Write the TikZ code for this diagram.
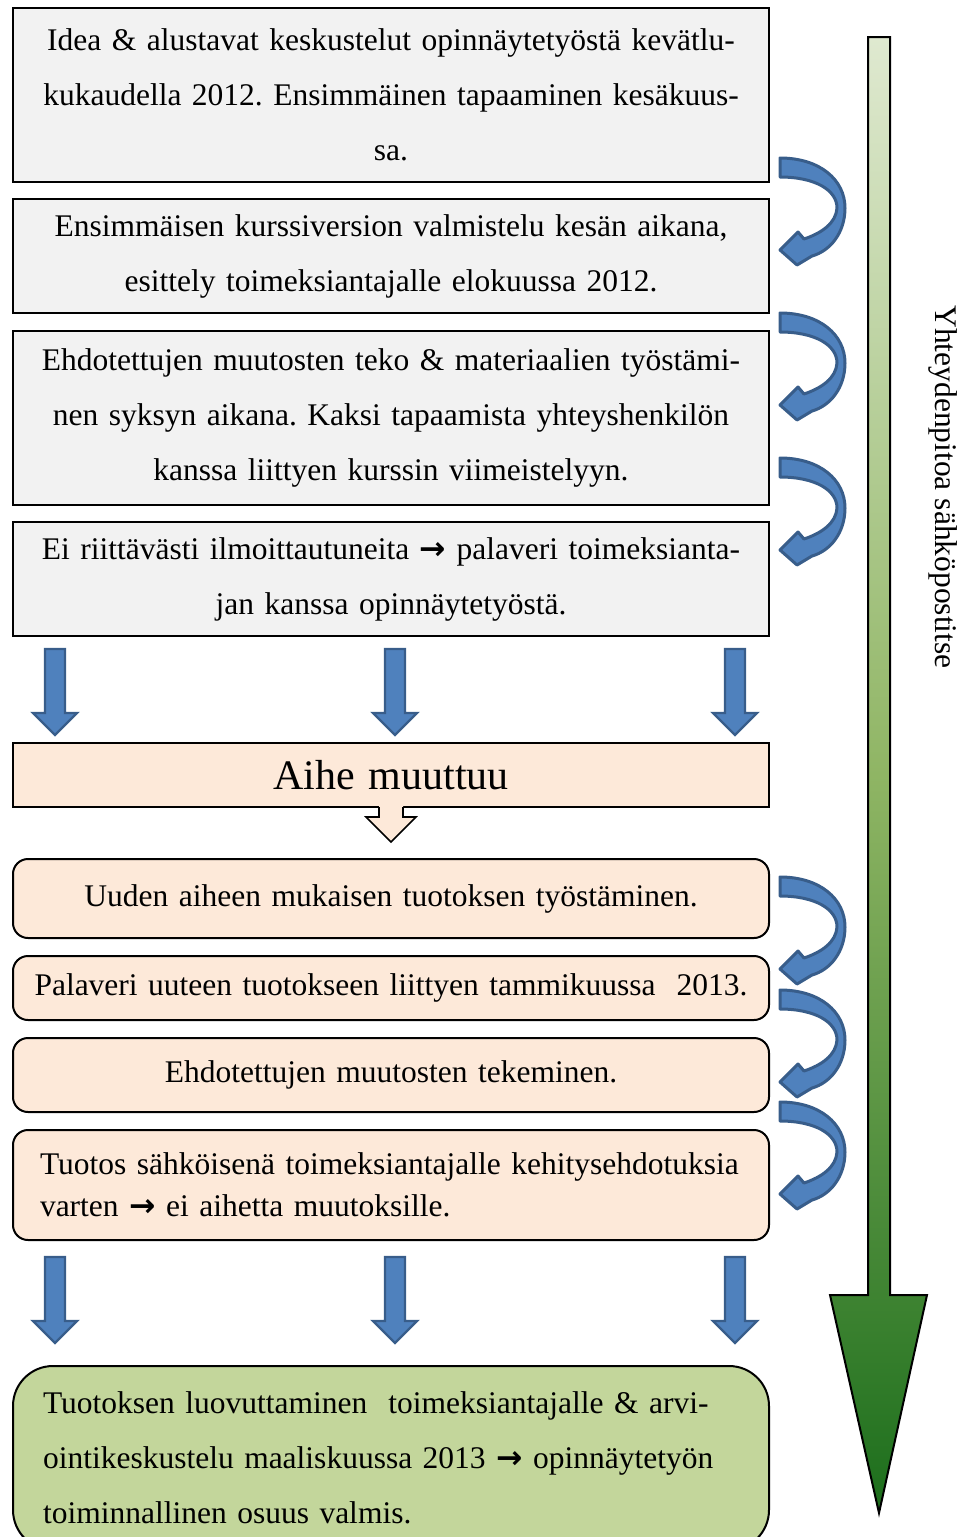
\documentclass[tikz,border=0pt]{standalone}
\usepackage{fontspec}
\setmainfont{Liberation Serif}
\newfontfamily\arrowfont{DejaVu Sans}
\usetikzlibrary{positioning}
\definecolor{boxgray}{HTML}{F2F2F2}
\definecolor{boxpeach}{HTML}{FDE9D9}
\definecolor{boxgreen}{HTML}{C3D69B}
\definecolor{arrowfill}{HTML}{4F81BD}
\definecolor{arrowline}{HTML}{385D8A}
\definecolor{timetop}{HTML}{DFE9D0}
\definecolor{timemid}{HTML}{8FB564}
\definecolor{timebottom}{HTML}{1C6E1C}
\newcommand{\thenarrow}{{\arrowfont\bfseries →}}
\tikzset{
x=0.5pt, y=-0.5pt, % one unit is one pixel of the sketch, y runs downwards
phase/.style={draw, line width=1pt, outer sep=0pt, text width=358pt, inner xsep=10pt, inner ysep=0pt, align=center, font=\fontsize{15.75}{27.5}\selectfont}, % every text box
oldphase/.style={phase, fill=boxgray, minimum height=#1}, % plan before the change
newphase/.style={phase, fill=boxpeach, rounded corners=7.5pt, minimum height=#1}, % plan after the change
leftphase/.style={text width=351pt, inner xsep=13.5pt, align=left}, % left aligned text
blockdown/.pic={
  \draw[line width=1.2pt, draw=arrowline, fill=arrowfill] (-10,0) -- (10,0) -- (10,64) -- (22,64) -- (0,86) -- (-22,64) -- (-10,64) -- cycle;
},
turnarrow/.pic={
  \draw[line width=1.5pt, draw=arrowline, fill=arrowfill, line join=round] (0,0) .. controls (40,0) and (65,22) .. (65,50) .. controls (65,75) and (50,93) .. (32,98) -- (17,107) -- (0,92) -- (18,74) -- (24,81) .. controls (42,75) and (56,65) .. (57,50) .. controls (57,32) and (35,19) .. (0,19) -- cycle;
},
}
\begin{document}
\frenchspacing
\begin{tikzpicture}
\useasboundingbox (0,0) rectangle (963,1537);

% time line on the right
\draw[line width=1pt, top color=timetop, bottom color=timebottom, middle color=timemid] (868,37) -- (890,37) -- (890,1295) -- (927,1295) -- (879,1513) -- (830,1295) -- (868,1295) -- cycle;
\node[rotate=-90, font=\fontsize{15.75}{18}\selectfont] (mail) at (943,487) {Yhteydenpitoa sähköpostitse};

% first topic
\node[oldphase=87pt] (idea) at (391,95) {Idea \& alustavat keskustelut opinnäytetyöstä kevätlu-\\kukaudella 2012. Ensimmäinen tapaaminen kesäkuus-\\sa.};
\node[oldphase=57pt, below=8.5pt of idea] (draft) {Ensimmäisen kurssiversion valmistelu kesän aikana,\\esittely toimeksiantajalle elokuussa 2012.};
\node[oldphase=87pt, below=9pt of draft] (edit) {Ehdotettujen muutosten teko \& materiaalien työstämi-\\nen syksyn aikana. Kaksi tapaamista yhteyshenkilön\\kanssa liittyen kurssin viimeistelyyn.};
\node[oldphase=57pt, below=8.5pt of edit] (stop) {Ei riittävästi ilmoittautuneita \thenarrow{} palaveri toimeksianta-\\jan kanssa opinnäytetyöstä.};

\foreach \px in {55,395,735}
  \pic at (\px,649) {blockdown};

\node[phase, fill=boxpeach, minimum height=32pt, below=53.5pt of stop, font=\fontsize{21}{24}\selectfont] (topic) {Aihe muuttuu};
\fill[boxpeach] (379,805) -- (403,805) -- (403,817) -- (416,817) -- (391,842) -- (366,817) -- (379,817) -- cycle;
\draw[line width=0.8pt] (379,807) -- (379,817) -- (366,817) -- (391,842) -- (416,817) -- (403,817) -- (403,807);

% second topic
\node[newphase=39.5pt, below=26pt of topic] (work) {Uuden aiheen mukaisen tuotoksen työstäminen.};
\node[newphase=32pt, below=9pt of work] (meet) {Palaveri uuteen tuotokseen liittyen tammikuussa\ \ 2013.};
\node[newphase=37pt, below=9pt of meet] (fix) {Ehdotettujen muutosten tekeminen.};
\node[newphase=55pt, leftphase, below=9pt of fix, font=\fontsize{15.75}{21}\selectfont] (send) {\mbox{Tuotos sähköisenä toimeksiantajalle kehitysehdotuksia}\\varten \thenarrow{} ei aihetta muutoksille.};

\foreach \px in {55,395,735}
  \pic at (\px,1257) {blockdown};

\node[phase, leftphase, fill=boxgreen, rounded corners=20pt, minimum height=92pt, inner xsep=15pt, text width=348pt, below=63pt of send] (done) {Tuotoksen luovuttaminen\ \ toimeksiantajalle \& arvi-\\ointikeskustelu maaliskuussa 2013 \thenarrow{} opinnäytetyön\\toiminnallinen osuus valmis.};

% turning arrows between the steps
\foreach \py in {158,313,458,877,990,1102}
  \pic at (780,\py) {turnarrow};
\end{tikzpicture}
\end{document}
